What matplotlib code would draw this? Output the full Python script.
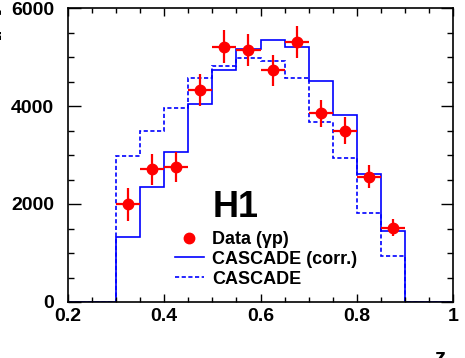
import numpy as np
import matplotlib
matplotlib.use("Agg")
import matplotlib.pyplot as plt
from matplotlib.lines import Line2D
from matplotlib.ticker import MultipleLocator

plt.rcParams['font.family'] = ['Liberation Sans', 'DejaVu Sans']
plt.rcParams['font.weight'] = 'bold'

# bin edges in z (zero outside 0.3 - 0.9)
z_edges = [0.2, 0.3, 0.35, 0.4, 0.45, 0.5, 0.55, 0.6, 0.65, 0.7, 0.75, 0.8, 0.85, 0.9, 1.0]
z_centres = [0.325, 0.375, 0.425, 0.475, 0.525, 0.575, 0.625, 0.675, 0.725, 0.775, 0.825, 0.875]
z_halfwidth = 0.025

data_val = [1990, 2710, 2750, 4330, 5210, 5140, 4730, 5310, 3850, 3500, 2560, 1520]
data_err = [340, 316, 310, 327, 340, 330, 316, 330, 282, 272, 228, 180]

cascade_corr = [0, 1330, 2350, 3070, 4040, 4730, 5160, 5340, 5210, 4520, 3820, 2610, 1440, 0]
cascade = [0, 2980, 3500, 3950, 4570, 4820, 4970, 4910, 4580, 3680, 2930, 1810, 940, 0]

red = '#ff0000'
blue = '#0000ff'

fig = plt.figure(figsize=(4.65, 3.58), dpi=100)
ax = fig.add_axes([68/465, 56/358, 385/465, 294/358])

ax.stairs(cascade_corr, z_edges, baseline=None, color=blue, lw=1.2)
ax.stairs(cascade, z_edges, baseline=None, color=blue, lw=1.2, ls=(0, (2.5, 1.5)))
ax.errorbar(z_centres, data_val, yerr=data_err, xerr=z_halfwidth, fmt='o',
            color=red, ecolor=red, ms=7.5, elinewidth=1.6, capsize=0, zorder=5)

ax.set_xlim(0.2, 1.0)
ax.set_ylim(0, 6000)
ax.xaxis.set_major_locator(MultipleLocator(0.2))
ax.xaxis.set_minor_locator(MultipleLocator(0.05))
ax.yaxis.set_major_locator(MultipleLocator(2000))
ax.yaxis.set_minor_locator(MultipleLocator(500))
ax.set_xticks([0.2, 0.4, 0.6, 0.8, 1.0], ['0.2', '0.4', '0.6', '0.8', '1'])
ax.tick_params(axis='both', which='both', direction='in', top=True, right=True,
               labelsize=14, width=1.0)
ax.tick_params(axis='x', which='major', length=6, pad=4)
ax.tick_params(axis='x', which='minor', length=3.5)
ax.tick_params(axis='y', which='major', length=9, pad=10)
ax.tick_params(axis='y', which='minor', length=4.5)
for lab in ax.get_xticklabels() + ax.get_yticklabels():
    lab.set_fontweight('bold')
for sp in ax.spines.values():
    sp.set_linewidth(1.2)

ax.text(0.501, 1735, 'H1', fontsize=26, fontweight='bold', ha='left', va='baseline')

handles = [
    Line2D([], [], ls='none', marker='o', color=red, ms=7.5),
    Line2D([], [], color=blue, lw=1.2),
    Line2D([], [], color=blue, lw=1.2, ls=(0, (2.5, 1.5))),
]
labels = ['Data (γp)', 'CASCADE (corr.)', 'CASCADE']
leg = ax.legend(handles, labels, loc='upper left', bbox_to_anchor=(0.278, 0.242),
                frameon=False, borderpad=0, borderaxespad=0, handlelength=1.6,
                handletextpad=0.45, labelspacing=0.16,
                prop={'size': 13, 'weight': 'bold'})

fig.text(440/465, 10/358, 'z', fontsize=16, fontweight='bold', ha='center', va='top')
fig.text(-0.012, 0.975, 'dσ/dz [pb]', fontsize=12, fontweight='bold', rotation=90,
         ha='center', va='top')

fig.savefig('out.png', dpi=100)
